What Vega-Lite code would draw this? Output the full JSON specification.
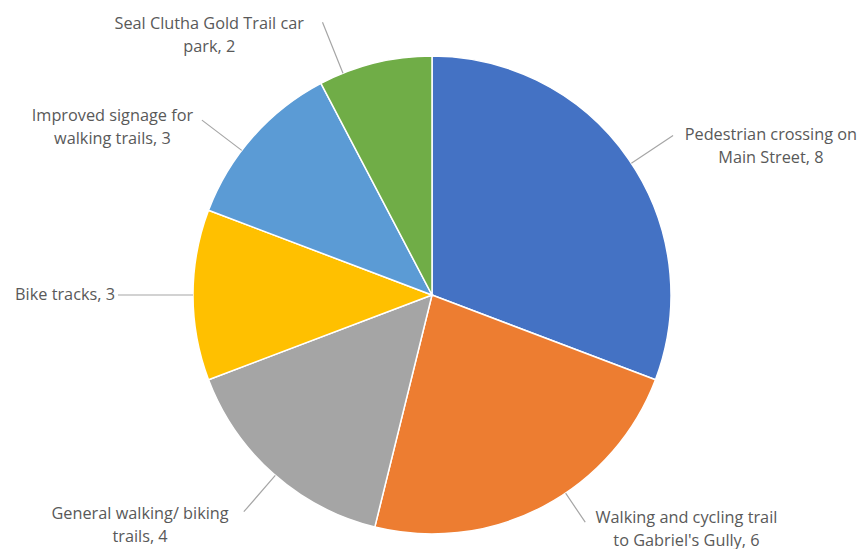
{
  "$schema": "https://vega.github.io/schema/vega-lite/v6.json",
  "width": 858,
  "height": 508,
  "autosize": {"type": "none"},
  "padding": {"left": 3, "top": 41, "right": 0, "bottom": 0},
  "background": "white",
  "config": {"view": {"stroke": null}},
  "data": {
    "values": [
      {"category": "Pedestrian crossing on Main Street", "value": 8, "label": "Pedestrian crossing on\nMain Street, 8", "rank": 1},
      {"category": "Walking and cycling trail to Gabriel's Gully", "value": 6, "label": "Walking and cycling trail\nto Gabriel's Gully, 6", "rank": 2},
      {"category": "General walking/ biking trails", "value": 4, "label": "General walking/ biking\ntrails, 4", "rank": 3},
      {"category": "Bike tracks", "value": 3, "label": "Bike tracks, 3", "rank": 4},
      {"category": "Improved signage for walking trails", "value": 3, "label": "Improved signage for\nwalking trails, 3", "rank": 5},
      {"category": "Seal Clutha Gold Trail car park", "value": 2, "label": "Seal Clutha Gold Trail car\npark, 2", "rank": 6}
    ]
  },
  "encoding": {
    "theta": {"field": "value", "type": "quantitative", "stack": true},
    "order": {"field": "rank", "type": "quantitative"},
    "detail": {"field": "category", "type": "nominal"}
  },
  "layer": [
    {
      "mark": {"type": "arc", "outerRadius": 239, "stroke": "white", "strokeWidth": 1.5},
      "encoding": {
        "color": {
          "field": "category",
          "type": "nominal",
          "legend": null,
          "scale": {
            "domain": ["Pedestrian crossing on Main Street", "Walking and cycling trail to Gabriel's Gully", "General walking/ biking trails", "Bike tracks", "Improved signage for walking trails", "Seal Clutha Gold Trail car park"],
            "range": ["#4472C4", "#ED7D31", "#A5A5A5", "#FFC000", "#5B9BD5", "#70AD47"]
          }
        }
      }
    },
    {
      "mark": {"type": "arc", "outerRadius": 289, "innerRadius": 239, "padAngle": 3.1, "fill": null, "stroke": "#A6A6A6", "strokeWidth": 1.2, "thetaOffset": 0.02, "theta2Offset": 0.02},
      "encoding": {"strokeOpacity": {"condition": {"test": "datum.rank === 1", "value": 1}, "value": 0}}
    },
    {
      "mark": {"type": "arc", "outerRadius": 274, "innerRadius": 239, "padAngle": 3.1, "fill": null, "stroke": "#A6A6A6", "strokeWidth": 1.2, "thetaOffset": -0.11, "theta2Offset": -0.11},
      "encoding": {"strokeOpacity": {"condition": {"test": "datum.rank === 2", "value": 1}, "value": 0}}
    },
    {
      "mark": {"type": "arc", "outerRadius": 287, "innerRadius": 239, "padAngle": 3.1, "fill": null, "stroke": "#A6A6A6", "strokeWidth": 1.2, "thetaOffset": -0.01, "theta2Offset": -0.01},
      "encoding": {"strokeOpacity": {"condition": {"test": "datum.rank === 3", "value": 1}, "value": 0}}
    },
    {
      "mark": {"type": "arc", "outerRadius": 314, "innerRadius": 239, "padAngle": 3.1, "fill": null, "stroke": "#A6A6A6", "strokeWidth": 1.2},
      "encoding": {"strokeOpacity": {"condition": {"test": "datum.rank === 4", "value": 1}, "value": 0}}
    },
    {
      "mark": {"type": "arc", "outerRadius": 289, "innerRadius": 239, "padAngle": 3.1, "fill": null, "stroke": "#A6A6A6", "strokeWidth": 1.2, "thetaOffset": -0.075, "theta2Offset": -0.075},
      "encoding": {"strokeOpacity": {"condition": {"test": "datum.rank === 5", "value": 1}, "value": 0}}
    },
    {
      "mark": {"type": "arc", "outerRadius": 294, "innerRadius": 239, "padAngle": 3.1, "fill": null, "stroke": "#A6A6A6", "strokeWidth": 1.2, "thetaOffset": -0.14, "theta2Offset": -0.14},
      "encoding": {"strokeOpacity": {"condition": {"test": "datum.rank === 6", "value": 1}, "value": 0}}
    },
    {
      "mark": {"type": "text", "radius": 300, "dx": 92, "dy": 10, "align": "center", "baseline": "middle", "lineBreak": "\n", "lineHeight": 23, "font": "Open Sans", "fontSize": 16.3, "color": "#595959"},
      "encoding": {"text": {"field": "label"}, "opacity": {"condition": {"test": "datum.rank === 1", "value": 1}, "value": 0}}
    },
    {
      "mark": {"type": "text", "radius": 300, "dx": 115, "dy": -43, "align": "center", "baseline": "middle", "lineBreak": "\n", "lineHeight": 23, "font": "Open Sans", "fontSize": 16.3, "color": "#595959"},
      "encoding": {"text": {"field": "label"}, "opacity": {"condition": {"test": "datum.rank === 2", "value": 1}, "value": 0}}
    },
    {
      "mark": {"type": "text", "radius": 300, "dx": -93, "dy": -6, "align": "center", "baseline": "middle", "lineBreak": "\n", "lineHeight": 23, "font": "Open Sans", "fontSize": 16.3, "color": "#595959"},
      "encoding": {"text": {"field": "label"}, "opacity": {"condition": {"test": "datum.rank === 3", "value": 1}, "value": 0}}
    },
    {
      "mark": {"type": "text", "radius": 300, "dx": -17, "dy": 0, "align": "right", "baseline": "middle", "lineBreak": "\n", "lineHeight": 23, "font": "Open Sans", "fontSize": 16.3, "color": "#595959"},
      "encoding": {"text": {"field": "label"}, "opacity": {"condition": {"test": "datum.rank === 4", "value": 1}, "value": 0}}
    },
    {
      "mark": {"type": "text", "radius": 300, "dx": -95, "dy": 20, "align": "center", "baseline": "middle", "lineBreak": "\n", "lineHeight": 23, "font": "Open Sans", "fontSize": 16.3, "color": "#595959"},
      "encoding": {"text": {"field": "label"}, "opacity": {"condition": {"test": "datum.rank === 5", "value": 1}, "value": 0}}
    },
    {
      "mark": {"type": "text", "radius": 300, "dx": -151, "dy": 20, "align": "center", "baseline": "middle", "lineBreak": "\n", "lineHeight": 23, "font": "Open Sans", "fontSize": 16.3, "color": "#595959"},
      "encoding": {"text": {"field": "label"}, "opacity": {"condition": {"test": "datum.rank === 6", "value": 1}, "value": 0}}
    }
  ]
}
